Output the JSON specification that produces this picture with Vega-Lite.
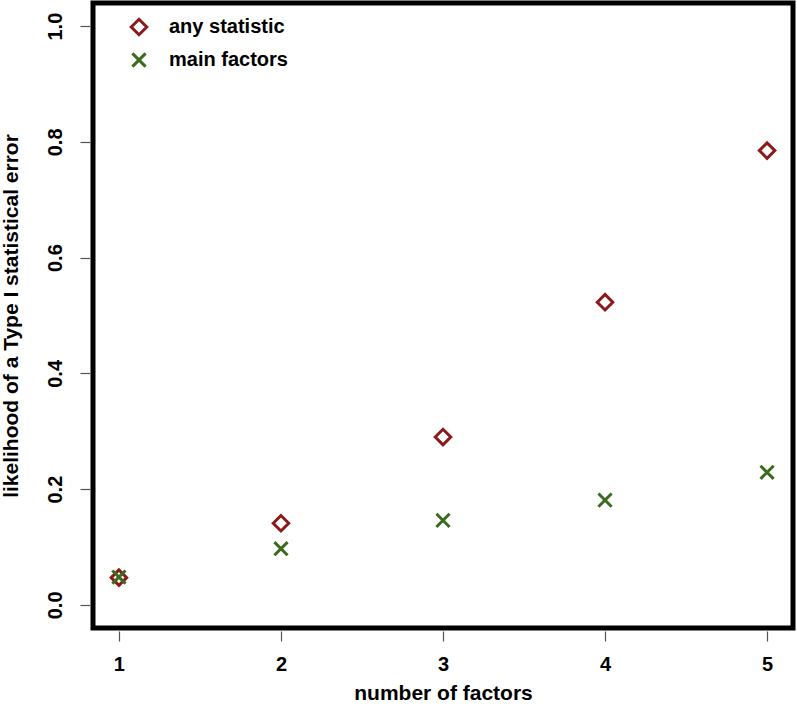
{
  "$schema": "https://vega.github.io/schema/vega-lite/v6.json",
  "width": 700,
  "height": 625,
  "autosize": {"type": "none"},
  "padding": {"left": 93, "top": 3, "right": 4, "bottom": 95},
  "background": "white",
  "config": {
    "font": "Liberation Sans",
    "view": {"stroke": "black", "strokeWidth": 5},
    "axis": {
      "grid": false,
      "domain": false,
      "tickColor": "#555555",
      "tickSize": 10,
      "tickWidth": 1.2,
      "offset": 3,
      "labelFont": "Liberation Sans",
      "labelFontWeight": "bold",
      "labelFontSize": 20,
      "labelColor": "black",
      "titleFont": "Liberation Sans",
      "titleFontWeight": "bold",
      "titleFontSize": 21,
      "titleColor": "black"
    }
  },
  "data": {
    "values": [
      {"factors": 1, "value": 0.047, "series": "any statistic"},
      {"factors": 2, "value": 0.141, "series": "any statistic"},
      {"factors": 3, "value": 0.29, "series": "any statistic"},
      {"factors": 4, "value": 0.523, "series": "any statistic"},
      {"factors": 5, "value": 0.785, "series": "any statistic"},
      {"factors": 1, "value": 0.048, "series": "main factors"},
      {"factors": 2, "value": 0.097, "series": "main factors"},
      {"factors": 3, "value": 0.146, "series": "main factors"},
      {"factors": 4, "value": 0.181, "series": "main factors"},
      {"factors": 5, "value": 0.229, "series": "main factors"}
    ]
  },
  "mark": {"type": "point", "filled": false, "strokeWidth": 3, "size": 240, "opacity": 1},
  "encoding": {
    "x": {
      "field": "factors",
      "type": "quantitative",
      "scale": {"domain": [0.84, 5.16], "nice": false, "zero": false},
      "axis": {"values": [1, 2, 3, 4, 5], "format": "d", "labelPadding": 13, "title": "number of factors", "titlePadding": 8}
    },
    "y": {
      "field": "value",
      "type": "quantitative",
      "scale": {"domain": [-0.04, 1.04], "nice": false, "zero": false},
      "axis": {"values": [0, 0.2, 0.4, 0.6, 0.8, 1.0], "format": ".1f", "labelAngle": -90, "labelAlign": "center", "labelBaseline": "bottom", "labelPadding": 15, "title": "likelihood of a Type I statistical error", "titlePadding": 24}
    },
    "color": {
      "field": "series",
      "type": "nominal",
      "scale": {"domain": ["any statistic", "main factors"], "range": ["#8B1A1A", "#3A6B1E"]},
      "legend": {
        "title": null,
        "orient": "none",
        "legendX": 36,
        "legendY": 14,
        "labelFont": "Liberation Sans",
        "labelFontWeight": "bold",
        "labelFontSize": 20,
        "labelColor": "black",
        "symbolSize": 240,
        "symbolStrokeWidth": 3,
        "symbolFillColor": "transparent",
        "labelOffset": 20,
        "rowPadding": 6
      }
    },
    "shape": {
      "field": "series",
      "type": "nominal",
      "scale": {"domain": ["any statistic", "main factors"], "range": ["diamond", "M-0.85,-0.85L0.85,0.85M0.85,-0.85L-0.85,0.85"]}
    }
  }
}
